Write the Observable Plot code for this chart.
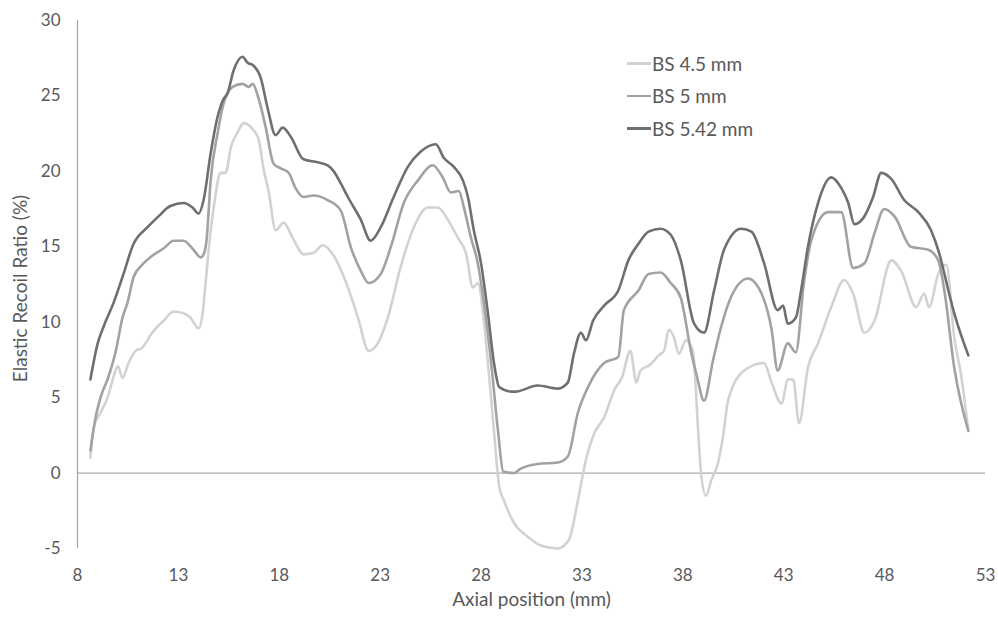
<!DOCTYPE html>
<html>
<head>
<meta charset="utf-8">
<script src="https://cdn.jsdelivr.net/npm/d3@7"></script>
<script src="https://cdn.jsdelivr.net/npm/@observablehq/plot@0.6"></script>
<style>
  body { margin: 0; background: #fff; }
  #wrap { position: relative; width: 998px; height: 620px; font-family: Lato, "Open Sans", sans-serif; color: #595959; }
  #legend { position: absolute; left: 627px; top: 47px; font-size: 19px; }
  #legend .row { display: flex; align-items: center; height: 32.5px; }
  #legend .sw { width: 24px; height: 2.5px; margin-right: 1px; }
</style>
</head>
<body>
<div id="wrap"><div id="legend"></div></div>
<script>
const seriesNames = ["BS 4.5 mm", "BS 5 mm", "BS 5.42 mm"];
const seriesColors = ["#d2d2d2", "#a2a2a2", "#6f6f6f"];
const xTicks = [8, 13, 18, 23, 28, 33, 38, 43, 48, 53];
const yTicks = [-5, 0, 5, 10, 15, 20, 25, 30];
const xLabel = "Axial position (mm)";
const yLabel = "Elastic Recoil Ratio (%)";

// [axial position (mm), elastic recoil ratio (%)]
const bs45 = [
  [8.64,1.0],[8.8,3.0],[9.14,4.0],[9.49,5.0],[9.79,6.4],[10.0,7.1],[10.23,6.3],[10.53,7.3],[10.88,8.1],[11.2,8.3],
  [11.7,9.3],[12.27,10.1],[12.76,10.7],[13.26,10.6],[13.6,10.3],[14.0,9.6],[14.2,10.6],[14.35,12.6],[14.5,14.8],[14.75,17.6],
  [15.1,19.9],[15.34,19.9],[15.6,21.6],[15.94,22.6],[16.23,23.2],[16.68,22.8],[16.98,22.1],[17.23,20.1],[17.47,18.7],[17.82,16.1],
  [18.22,16.6],[18.66,15.6],[19.2,14.5],[19.7,14.6],[20.15,15.1],[20.7,14.4],[21.4,12.3],[21.9,10.3],[22.43,8.1],[22.88,8.6],
  [23.38,10.3],[24.0,13.6],[24.67,16.3],[25.36,17.6],[25.86,17.6],[26.35,16.8],[26.85,15.6],[27.25,14.6],[27.6,12.3],[27.84,12.6],
  [28.1,10.6],[28.34,7.3],[28.64,2.8],[28.9,-0.9],[29.13,-1.8],[29.63,-3.3],[30.3,-4.2],[30.97,-4.8],[31.8,-5.0],[32.36,-4.4],
  [32.8,-1.8],[33.2,0.9],[33.6,2.6],[34.1,3.7],[34.6,5.5],[35.03,6.5],[35.3,7.9],[35.4,8.1],[35.7,6.0],[35.9,6.8],
  [36.4,7.2],[36.8,7.8],[37.07,8.1],[37.3,9.5],[37.56,9.0],[37.8,7.9],[38.16,8.8],[38.5,8.1],[38.75,3.0],[38.9,0.0],
  [39.15,-1.5],[39.4,-0.5],[39.75,0.7],[40.0,2.5],[40.24,4.8],[41.04,6.8],[42.03,7.3],[42.4,6.0],[42.9,4.6],[43.2,6.2],
  [43.47,6.2],[43.76,3.3],[44.2,7.0],[44.7,8.6],[45.35,11.0],[46.0,12.8],[46.44,11.9],[47.0,9.3],[47.5,10.1],[48.33,14.1],
  [48.82,13.4],[49.57,11.0],[49.96,11.9],[50.2,11.0],[50.66,13.2],[51.06,13.8],[51.45,9.0],[51.8,6.4],[52.15,2.8]
];
const bs5 = [
  [8.64,1.5],[8.9,3.7],[9.14,5.0],[9.54,6.4],[9.9,8.1],[10.23,10.3],[10.48,11.3],[10.78,13.0],[11.2,13.8],[11.7,14.4],
  [12.27,14.9],[12.76,15.4],[13.26,15.4],[13.75,14.8],[14.1,14.3],[14.25,14.5],[14.4,15.5],[14.6,19.4],[14.94,22.5],[15.24,24.5],
  [15.69,25.6],[16.18,25.8],[16.48,25.6],[16.68,25.8],[16.98,24.8],[17.33,22.9],[17.72,20.5],[18.07,20.2],[18.47,19.9],[18.8,18.9],
  [19.2,18.3],[19.7,18.4],[20.4,18.1],[21.05,17.4],[21.54,15.0],[22.04,13.4],[22.43,12.6],[23.03,13.2],[23.53,15.0],[24.17,17.9],
  [24.87,19.4],[25.6,20.4],[26.1,19.6],[26.5,18.6],[26.9,18.7],[27.15,17.6],[27.5,15.6],[27.84,13.9],[28.14,11.3],[28.5,7.3],
  [28.84,2.8],[29.1,0.1],[29.63,0.0],[29.97,0.3],[30.8,0.6],[31.8,0.7],[32.3,1.1],[32.8,4.0],[33.3,5.7],[34.1,7.3],
  [34.8,7.7],[35.08,10.8],[35.8,12.1],[36.3,13.2],[36.9,13.3],[37.4,12.6],[37.9,11.6],[38.4,8.1],[38.7,6.4],[39.05,4.8],
  [39.5,7.5],[39.9,9.7],[40.4,11.7],[41.23,12.9],[41.9,11.9],[42.4,9.5],[42.7,6.8],[43.2,8.6],[43.6,8.0],[44.0,12.6],
  [44.36,15.4],[45.2,17.3],[45.85,17.3],[46.44,13.6],[47.0,13.9],[47.5,15.9],[47.98,17.5],[48.5,17.0],[49.3,15.0],[50.16,14.8],
  [50.66,14.1],[50.96,12.1],[51.45,7.0],[52.15,2.8]
];
const bs542 = [
  [8.64,6.2],[9.0,8.6],[9.29,9.7],[9.79,11.3],[10.23,13.0],[10.78,15.2],[11.47,16.3],[12.0,17.0],[12.6,17.7],[13.26,17.9],
  [13.7,17.6],[14.0,17.2],[14.25,18.1],[14.6,21.2],[14.94,23.6],[15.2,24.7],[15.44,25.2],[15.74,26.7],[16.18,27.6],[16.43,27.2],
  [16.73,27.0],[17.08,26.2],[17.42,24.2],[17.82,22.4],[18.17,22.9],[18.57,22.3],[19.2,20.8],[19.9,20.6],[20.4,20.4],[20.7,20.0],
  [21.05,19.2],[21.4,18.3],[22.04,16.8],[22.53,15.4],[23.03,16.3],[23.67,18.3],[24.37,20.3],[25.0,21.3],[25.76,21.8],[26.15,20.9],
  [26.65,20.3],[27.1,19.4],[27.35,18.3],[27.64,16.1],[28.0,13.9],[28.34,10.6],[28.64,7.3],[28.9,5.7],[29.5,5.4],[29.7,5.4],
  [30.8,5.8],[31.8,5.6],[32.3,6.0],[32.6,7.9],[32.95,9.3],[33.2,8.8],[33.55,10.1],[34.1,11.1],[34.8,12.1],[35.3,14.1],
  [35.8,15.2],[36.3,16.0],[36.9,16.2],[37.4,15.8],[37.9,14.1],[38.56,9.9],[39.05,9.3],[39.55,12.1],[40.04,14.8],[40.9,16.2],
  [41.4,16.0],[42.03,13.9],[42.7,10.8],[42.97,11.1],[43.2,9.9],[43.6,10.3],[43.86,12.1],[44.2,15.0],[44.7,17.9],[45.35,19.6],
  [45.85,18.9],[46.2,17.9],[46.5,16.5],[46.94,16.9],[47.43,18.3],[47.83,19.9],[48.33,19.5],[48.97,18.1],[49.67,17.3],[50.3,16.1],
  [50.7,14.6],[51.16,12.1],[51.45,10.6],[52.15,7.8]
];

const seriesData = [bs45, bs5, bs542];
const rows = [];
seriesData.forEach((arr, i) => arr.forEach(([x, y]) => rows.push({ x, y, series: seriesNames[i] })));

const chart = Plot.plot({
  width: 998,
  height: 620,
  marginLeft: 77,
  marginRight: 13,
  marginTop: 20,
  marginBottom: 72,
  style: { fontFamily: "Lato, 'Open Sans', sans-serif", fontSize: "17px", color: "#595959", background: "#fff", overflow: "visible" },
  x: { domain: [8, 53], ticks: xTicks, tickSize: 0, tickPadding: 20, label: null, tickFormat: d => String(d) },
  y: { domain: [-5, 30], ticks: yTicks, tickSize: 0, tickPadding: 17, label: null, tickFormat: d => String(d) },
  color: { domain: seriesNames, range: seriesColors },
  marks: [
    Plot.ruleX([8], { stroke: "#a9a9a9", strokeWidth: 1.3 }),
    Plot.ruleY([0], { stroke: "#a9a9a9", strokeWidth: 1.3 }),
    Plot.line(rows, { x: "x", y: "y", z: "series", stroke: "series", strokeWidth: 2.6, curve: "monotone-x" }),
    Plot.text([xLabel], { frameAnchor: "bottom", dy: 57, fontSize: 19, fill: "#595959" }),
    Plot.text([yLabel], { frameAnchor: "left", textAnchor: "middle", rotate: -90, dx: -57, dy: 4, fontSize: 19, fill: "#595959" })
  ]
});
document.getElementById("wrap").prepend(chart);

const legend = document.getElementById("legend");
seriesNames.forEach((name, i) => {
  const row = document.createElement("div");
  row.className = "row";
  const sw = document.createElement("span");
  sw.className = "sw";
  sw.style.background = seriesColors[i];
  const t = document.createElement("span");
  t.textContent = name;
  row.append(sw, t);
  legend.append(row);
});
</script>
</body>
</html>
